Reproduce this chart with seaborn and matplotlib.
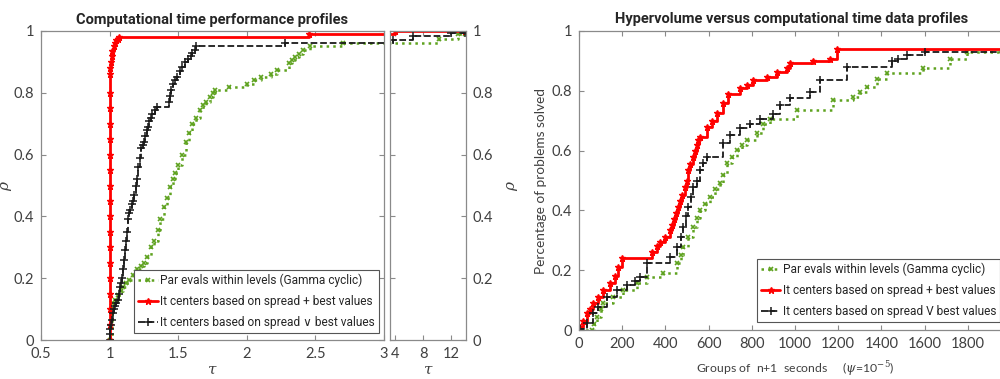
import matplotlib
matplotlib.use("Agg")
import matplotlib.pyplot as plt
from matplotlib.lines import Line2D
import seaborn as sns
import pandas as pd

# ---------------- data: left panel (performance profiles, (tau, rho)) ----------------
perf_green = [(1.0, 0.0), (1.02, 0.12), (1.04, 0.13), (1.06, 0.145), (1.08, 0.16), (1.1, 0.17),
              (1.12, 0.185), (1.14, 0.195), (1.17, 0.21), (1.19, 0.22), (1.2, 0.23), (1.23, 0.24),
              (1.25, 0.25), (1.27, 0.27), (1.3, 0.3), (1.32, 0.32), (1.35, 0.355), (1.37, 0.39),
              (1.4, 0.43), (1.42, 0.46), (1.44, 0.495), (1.46, 0.52), (1.48, 0.54), (1.5, 0.565),
              (1.53, 0.6), (1.56, 0.64), (1.58, 0.67), (1.6, 0.7), (1.63, 0.72), (1.66, 0.745),
              (1.68, 0.76), (1.7, 0.77), (1.73, 0.785), (1.75, 0.8), (1.77, 0.81), (1.87, 0.82),
              (2.0, 0.83), (2.05, 0.84), (2.1, 0.85), (2.18, 0.86), (2.22, 0.875), (2.31, 0.895),
              (2.33, 0.905), (2.35, 0.915), (2.38, 0.925), (2.41, 0.94), (2.46, 0.95), (2.7, 0.96),
              (10.3, 0.975), (13.0, 0.99), (14.0, 0.99)]

perf_red = [(1.0, 0.0), (1.0, 0.05), (1.0, 0.1), (1.0, 0.15), (1.0, 0.2), (1.0, 0.25), (1.0, 0.3),
            (1.0, 0.35), (1.0, 0.4), (1.0, 0.45), (1.0, 0.5), (1.0, 0.55), (1.0, 0.6), (1.0, 0.65),
            (1.0, 0.7), (1.0, 0.75), (1.0, 0.8), (1.0, 0.86), (1.005, 0.88), (1.01, 0.9),
            (1.015, 0.92), (1.02, 0.935), (1.03, 0.95), (1.04, 0.96), (1.05, 0.97), (1.06, 0.975),
            (1.07, 0.98), (2.45, 0.99), (4.0, 1.0), (14.0, 1.0)]

perf_black = [(1.0, 0.0), (1.0, 0.02), (1.005, 0.035), (1.01, 0.05), (1.015, 0.065), (1.025, 0.087),
              (1.03, 0.1), (1.04, 0.11), (1.05, 0.12), (1.06, 0.13), (1.07, 0.15), (1.075, 0.17),
              (1.08, 0.185), (1.09, 0.2), (1.1, 0.23), (1.105, 0.26), (1.11, 0.29), (1.12, 0.32),
              (1.125, 0.35), (1.135, 0.39), (1.14, 0.41), (1.15, 0.42), (1.16, 0.44), (1.17, 0.45),
              (1.18, 0.47), (1.19, 0.5), (1.2, 0.52), (1.21, 0.56), (1.22, 0.59), (1.23, 0.62),
              (1.24, 0.63), (1.25, 0.64), (1.26, 0.66), (1.27, 0.68), (1.28, 0.69), (1.29, 0.71),
              (1.3, 0.72), (1.31, 0.73), (1.33, 0.745), (1.345, 0.755), (1.43, 0.77), (1.44, 0.79),
              (1.45, 0.81), (1.46, 0.83), (1.48, 0.84), (1.49, 0.85), (1.51, 0.87), (1.53, 0.885),
              (1.55, 0.9), (1.57, 0.91), (1.59, 0.92), (1.6, 0.93), (1.62, 0.94), (1.63, 0.95),
              (2.28, 0.96), (3.7, 0.97), (6.6, 0.985), (12.0, 0.995), (14.0, 0.995)]

# ---------------- data: right panel (data profiles, (groups, fraction solved)) ----------------
data_green = [(0, 0.0), (59, 0.0), (70, 0.02), (82, 0.045), (100, 0.07), (113, 0.09), (159, 0.111),
              (205, 0.134), (267, 0.156), (313, 0.178), (390, 0.19), (452, 0.223), (470, 0.25),
              (483, 0.279), (506, 0.31), (529, 0.346), (545, 0.375), (560, 0.401), (583, 0.42),
              (606, 0.446), (630, 0.47), (653, 0.49), (668, 0.52), (684, 0.557), (707, 0.58),
              (730, 0.602), (753, 0.62), (776, 0.635), (822, 0.658), (853, 0.69), (884, 0.707),
              (1007, 0.736), (1177, 0.77), (1270, 0.78), (1300, 0.797), (1332, 0.814), (1378, 0.84),
              (1424, 0.858), (1594, 0.875), (1717, 0.908), (1794, 0.931), (2000, 0.931)]

data_red = [(0, 0.0), (5, 0.01), (20, 0.03), (35, 0.056), (50, 0.07), (66, 0.09), (90, 0.11),
            (113, 0.134), (143, 0.156), (165, 0.18), (182, 0.212), (197, 0.24), (336, 0.26),
            (360, 0.28), (375, 0.295), (400, 0.31), (421, 0.334), (430, 0.35), (440, 0.37),
            (450, 0.39), (460, 0.412), (468, 0.43), (475, 0.45), (491, 0.479), (498, 0.5),
            (506, 0.535), (515, 0.555), (529, 0.58), (537, 0.6), (545, 0.62), (552, 0.635),
            (560, 0.647), (591, 0.68), (615, 0.7), (637, 0.725), (668, 0.758), (691, 0.79),
            (745, 0.81), (776, 0.82), (807, 0.836), (869, 0.847), (915, 0.864), (961, 0.875),
            (977, 0.892), (1085, 0.898), (1162, 0.908), (1193, 0.94), (2000, 0.94)]

data_black = [(0, 0.0), (5, 0.005), (35, 0.022), (66, 0.056), (90, 0.078), (128, 0.111),
              (174, 0.134), (221, 0.15), (260, 0.165), (282, 0.178), (313, 0.223), (421, 0.245),
              (452, 0.279), (470, 0.31), (483, 0.346), (495, 0.38), (506, 0.412), (518, 0.445),
              (529, 0.479), (545, 0.5), (560, 0.535), (575, 0.56), (591, 0.58), (668, 0.624),
              (699, 0.652), (745, 0.674), (792, 0.69), (838, 0.707), (900, 0.724), (931, 0.751),
              (977, 0.775), (1069, 0.797), (1116, 0.836), (1239, 0.88), (1448, 0.898),
              (1479, 0.908), (1517, 0.92), (1602, 0.931), (2000, 0.931)]

labels = ["Par evals within levels (Gamma cyclic)",
          "It centers based on spread + best values",
          "It centers based on spread \u2228 best values"]
labels_right = ["Par evals within levels (Gamma cyclic)",
                "It centers based on spread + best values",
                "It centers based on spread V best values"]

rho_ticks = [0, 0.2, 0.4, 0.6, 0.8, 1]
rho_ticklabels = ["0", "0.2", "0.4", "0.6", "0.8", "1"]
tau_ticks = [0.5, 1, 1.5, 2, 2.5, 3]
tau_ticklabels = ["0.5", "1", "1.5", "2", "2.5", "3"]
tail_ticks = [4, 8, 12]
groups_ticks = list(range(0, 2001, 200))
groups_ticklabels = [str(v) for v in range(0, 1801, 200)] + [""]

# ---------------- style ----------------
sns.set_style("white")
NARROW = ["Roboto", "DejaVu Sans"]
plt.rcParams["font.family"] = ["Lato", "DejaVu Sans"]
plt.rcParams["mathtext.fontset"] = "dejavuserif"

GREEN = "#5ea21f"
RED = "#ff0000"
BLACK = "#1a1a1a"
SPINE = "#8a8a8a"
TICKTXT = "#404040"

styles = [
    dict(color=GREEN, markeredgecolor=GREEN, linestyle=":", marker="x", markersize=3.5,
         linewidth=1.8, markeredgewidth=1.2),
    dict(color=RED, markeredgecolor=RED, markerfacecolor=RED, linestyle="-", marker="*",
         markersize=5, linewidth=2.0, markeredgewidth=1.0),
    dict(color=BLACK, markeredgecolor=BLACK, linestyle="--", marker="+", markersize=5.5,
         linewidth=1.3, markeredgewidth=1.1),
]

fig = plt.figure(figsize=(10, 3.79), dpi=100)
W, H = 1000, 379


def px_axes(x0, y0, x1, y1):
    return fig.add_axes([x0 / W, 1 - y1 / H, (x1 - x0) / W, (y1 - y0) / H])


ax1 = px_axes(41, 31, 384, 340)
ax2 = px_axes(390, 31, 466, 340)
ax3 = px_axes(579, 31, 1011, 330)


def to_df(pairs):
    return pd.DataFrame(pairs, columns=["x", "y"])


for ax in (ax1, ax2):
    for pairs, st in zip([perf_green, perf_red, perf_black], styles):
        sns.lineplot(data=to_df(pairs), x="x", y="y", ax=ax, estimator=None, sort=False,
                     drawstyle="steps-post", legend=False, **st)

for pairs, st in zip([data_green, data_red, data_black], styles):
    sns.lineplot(data=to_df(pairs), x="x", y="y", ax=ax3, estimator=None, sort=False,
                 drawstyle="steps-post", legend=False, **st)

for ax in (ax1, ax2, ax3):
    for s in ax.spines.values():
        s.set_color(SPINE)
        s.set_linewidth(0.9)
    ax.tick_params(direction="in", length=3.5, width=0.8, color=SPINE, labelcolor=TICKTXT,
                   labelsize=10.5, top=True, right=True, bottom=True, left=True)
    ax.tick_params(axis="x", pad=5)
    ax.tick_params(axis="y", pad=5)
    ax.set_ylim(0, 1)
    ax.set_yticks(rho_ticks)
    ax.set_yticklabels(rho_ticklabels)

ax1.set_xlim(0.5, 3)
ax1.set_xticks(tau_ticks)
ax1.set_xticklabels(tau_ticklabels)
ax1.set_xlabel("$\\tau$", fontsize=11, color=TICKTXT, labelpad=1)
ax1.set_ylabel("$\\rho$", fontsize=11, color=TICKTXT, labelpad=0)
ax1.set_title("Computational time performance profiles", fontsize=10.5, fontweight="bold",
              family=NARROW, pad=5)

ax2.set_xlim(3.3, 14.1)
ax2.set_xticks(tail_ticks)
ax2.set_xticklabels([str(t) for t in tail_ticks])
ax2.tick_params(labelleft=False, labelright=True)
ax2.yaxis.set_label_position("right")
ax2.set_ylabel("$\\rho$", fontsize=11, color=TICKTXT, labelpad=8)
ax2.set_xlabel("$\\tau$", fontsize=11, color=TICKTXT, labelpad=1)

ax3.set_xlim(0, 2000)
ax3.set_xticks(groups_ticks)
ax3.set_xticklabels(groups_ticklabels)
ax3.set_ylabel("Percentage of problems solved", fontsize=9.8, color=TICKTXT, labelpad=3)
ax3.set_xlabel("Groups of  n+1  seconds     ($\\psi$=10$^{-5}$)", fontsize=8.8, color=TICKTXT,
               labelpad=6)
fig.text(792 / W, 1 - 23 / H, "Hypervolume versus computational time data profiles",
         fontsize=10.5, fontweight="bold", family=NARROW, ha="center", va="baseline")

handles = [Line2D([0, 0.5, 1], [0, 0, 0], markevery=[1], **st) for st in styles]

leg_kw = dict(loc="lower right", borderaxespad=0, fancybox=False, framealpha=1,
              edgecolor="#555555", handlelength=1.6, handletextpad=0.2, labelspacing=0.65,
              borderpad=0.35, borderaxespad_=None) if False else None
leg_kw = dict(loc="lower right", borderaxespad=0, fancybox=False, framealpha=1,
              edgecolor="#555555", handlelength=1.6, handletextpad=0.2, labelspacing=0.65,
              borderpad=0.35, prop={"family": NARROW, "size": 8.6})
leg1 = ax1.legend(handles, labels, bbox_to_anchor=(0.985, 0.023), **leg_kw)
leg1.get_frame().set_linewidth(0.8)
leg3 = ax3.legend(handles, labels_right, bbox_to_anchor=(0.975, 0.027), **leg_kw)
leg3.get_frame().set_linewidth(0.8)

fig.savefig("out.png", dpi=100)
